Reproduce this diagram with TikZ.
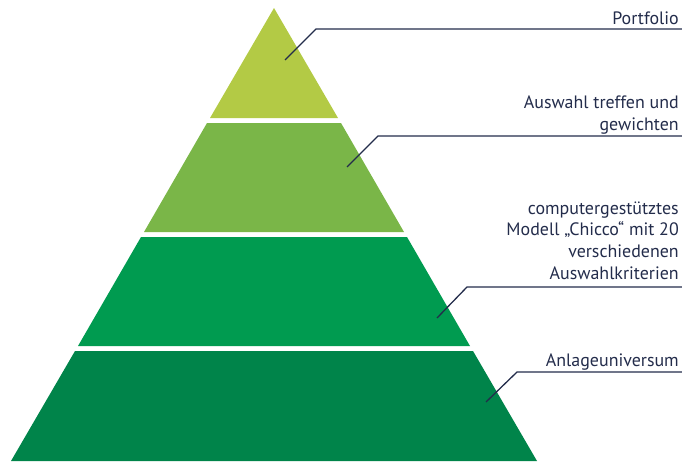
\documentclass[tikz,border=0pt]{standalone}
\usepackage{fontspec}
\setmainfont{PT Sans}
\usepackage{tkz-euclide}

\definecolor{stufeeins}{HTML}{B3CA45}
\definecolor{stufezwei}{HTML}{7AB648}
\definecolor{stufedrei}{HTML}{009B50}
\definecolor{stufevier}{HTML}{00844A}
\definecolor{marine}{HTML}{232C4B}

\tikzset{
  leader/.style={draw=marine, line width=1.1pt, line join=miter},
  beschriftung/.style={anchor=base east, inner sep=0pt, align=right, text=marine,
    font=\fontsize{15.3}{18.4}\selectfont}
}

\begin{document}
\begin{tikzpicture}[scale=0.3]
		\useasboundingbox (0,0) rectangle (68.2,46.1);
		% Spitze
		\tkzDefPoint(27.4,45.3){T}
		\tkzDefPoint(21.0,34.3){A1}
		\tkzDefPoint(33.8,34.3){B1}
		\tkzFillPolygon[fill=stufeeins](T,A1,B1)

		\tkzDefPoint(20.7,33.8){C2}
		\tkzDefPoint(34.1,33.8){D2}
		\tkzDefPoint(40.4,22.9){B2}
		\tkzDefPoint(14.4,22.9){A2}
		\tkzFillPolygon[fill=stufezwei](C2,D2,B2,A2)

		\tkzDefPoint(14.1,22.4){C3}
		\tkzDefPoint(40.7,22.4){D3}
		\tkzDefPoint(47.0,11.5){B3}
		\tkzDefPoint(7.8,11.5){A3}
		\tkzFillPolygon[fill=stufedrei](C3,D3,B3,A3)

		\tkzDefPoint(7.5,11.0){C4}
		\tkzDefPoint(47.3,11.0){D4}
		\tkzDefPoint(53.7,0){B4}
		\tkzDefPoint(1.1,0){A4}
		\tkzFillPolygon[fill=stufevier](C4,D4,B4,A4)

		% Hinweislinien
		\tkzDefPoint(28.5,40.1){P1}
		\tkzDefPoint(31.6,43.2){E1}
		\tkzDefPoint(68.2,43.2){R1}
		\tkzDefPoint(34.7,29.4){P2}
		\tkzDefPoint(37.8,32.5){E2}
		\tkzDefPoint(68.2,32.5){R2}
		\tkzDefPoint(43.7,14.3){P3}
		\tkzDefPoint(46.7,17.4){E3}
		\tkzDefPoint(68.2,17.4){R3}
		\tkzDefPoint(48.6,5.9){P4}
		\tkzDefPoint(51.7,8.9){E4}
		\tkzDefPoint(68.2,8.9){R4}
		\draw[leader] (P1) -- (E1) -- (R1);
		\draw[leader] (P2) -- (E2) -- (R2);
		\draw[leader] (P3) -- (E3) -- (R3);
		\draw[leader] (P4) -- (E4) -- (R4);

		\node[beschriftung] (portfolio) at (67.9,43.7) {Portfolio};
		\node[beschriftung] (auswahl) at (67.9,33.1) {Auswahl treffen und\\gewichten};
		\node[beschriftung] (modell) at (67.9,18.2) {computergestütztes\\Modell „Chicco“ mit 20\\verschiedenen\\Auswahlkriterien};
		\node[beschriftung] (universum) at (67.9,9.5) {Anlageuniversum};
	\end{tikzpicture}
\end{document}
